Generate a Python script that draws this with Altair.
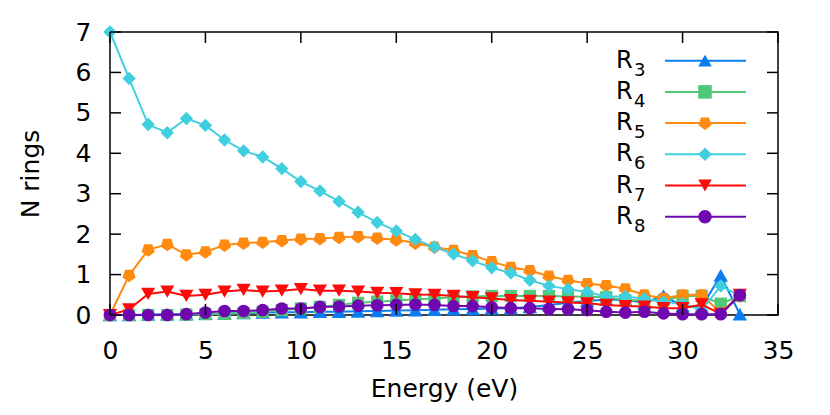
import altair as alt
import pandas as pd

# ---------------- data ----------------
energy = [0, 1, 2, 3, 4, 5, 6, 7, 8, 9, 10, 11, 12, 13, 14, 15, 16,
          17, 18, 19, 20, 21, 22, 23, 24, 25, 26, 27, 28, 29, 30, 31, 32, 33]

r3 = [0.00, 0.00, 0.01, 0.02, 0.02, 0.03, 0.04, 0.05, 0.06, 0.07, 0.07, 0.08,
      0.08, 0.09, 0.10, 0.11, 0.12, 0.13, 0.14, 0.15, 0.16, 0.17, 0.20, 0.25,
      0.30, 0.35, 0.38, 0.38, 0.30, 0.48, 0.22, 0.20, 0.98, 0.02]
r4 = [0.00, 0.00, 0.00, 0.00, 0.01, 0.02, 0.03, 0.05, 0.08, 0.12, 0.16, 0.20,
      0.25, 0.30, 0.33, 0.36, 0.39, 0.41, 0.44, 0.46, 0.47, 0.47, 0.47, 0.47,
      0.46, 0.45, 0.44, 0.37, 0.36, 0.36, 0.47, 0.47, 0.28, 0.47]
r5 = [0.00, 0.98, 1.61, 1.75, 1.49, 1.56, 1.73, 1.78, 1.80, 1.84, 1.88, 1.89,
      1.92, 1.94, 1.90, 1.86, 1.78, 1.68, 1.60, 1.47, 1.32, 1.18, 1.10, 0.96,
      0.86, 0.78, 0.73, 0.65, 0.50, 0.41, 0.50, 0.50, 0.05, 0.47]
r6 = [7.00, 5.85, 4.71, 4.51, 4.86, 4.69, 4.33, 4.06, 3.91, 3.62, 3.30, 3.07,
      2.81, 2.54, 2.29, 2.08, 1.87, 1.68, 1.51, 1.34, 1.17, 1.04, 0.86, 0.72,
      0.64, 0.57, 0.46, 0.46, 0.40, 0.32, 0.28, 0.12, 0.72, 0.48]
r7 = [0.00, 0.14, 0.52, 0.58, 0.47, 0.50, 0.58, 0.62, 0.58, 0.60, 0.64, 0.60,
      0.60, 0.58, 0.55, 0.54, 0.51, 0.50, 0.47, 0.44, 0.41, 0.37, 0.35, 0.33,
      0.31, 0.29, 0.25, 0.22, 0.21, 0.17, 0.17, 0.26, 0.03, 0.50]
r8 = [0.00, 0.00, 0.00, 0.00, 0.02, 0.06, 0.10, 0.10, 0.12, 0.16, 0.16, 0.20,
      0.21, 0.23, 0.24, 0.25, 0.26, 0.25, 0.22, 0.22, 0.19, 0.17, 0.17, 0.15,
      0.14, 0.12, 0.08, 0.06, 0.08, 0.04, 0.02, 0.02, 0.02, 0.49]

series_names = ["R3", "R4", "R5", "R6", "R7", "R8"]
series_subscripts = ["3", "4", "5", "6", "7", "8"]
series_values = [r3, r4, r5, r6, r7, r8]
series_colors = ["#0a7ef0", "#50c878", "#ff8a10", "#40cfdf", "#ff0a0a", "#7008b0"]
PENTAGON = "M0,1L0.951,0.309L0.588,-0.809L-0.588,-0.809L-0.951,0.309Z"
series_shapes = ["triangle-up", "square", PENTAGON, "diamond", "triangle-down", "circle"]
series_sizes = [210, 150, 190, 180, 200, 160]

x_ticks = [0, 5, 10, 15, 20, 25, 30, 35]
y_ticks = [0, 1, 2, 3, 4, 5, 6, 7]

# ---------------- layout ----------------
W, H = 668, 283
TICK = 11
FONT = "DejaVu Sans"

xscale = alt.Scale(domain=[0, 35], nice=False, zero=False)
yscale = alt.Scale(domain=[0, 7], nice=False, zero=False)

xaxis = alt.Axis(values=x_ticks, format="d", title="Energy (eV)", labelPadding=23,
                 titlePadding=13, labelFlush=False, labelOverlap=False)
yaxis = alt.Axis(values=y_ticks, format="d", title="N rings", labelPadding=19,
                 titlePadding=32, labelFlush=False, labelOverlap=False)

X = lambda f: alt.X(f, scale=xscale, axis=xaxis, title="Energy (eV)")
Y = lambda f: alt.Y(f, scale=yscale, axis=yaxis, title="N rings")

xt = pd.DataFrame({"E": x_ticks})
yt = pd.DataFrame({"value": y_ticks})

tick_style = dict(color="black", strokeWidth=1.5)
tick_layers = [
    alt.Chart(xt).mark_rule(**tick_style).encode(
        x=X("E:Q"), y=alt.value(H), y2=alt.value(H - TICK)),
    alt.Chart(xt).mark_rule(**tick_style).encode(
        x=X("E:Q"), y=alt.value(0), y2=alt.value(TICK)),
    alt.Chart(yt).mark_rule(**tick_style).encode(
        y=Y("value:Q"), x=alt.value(0), x2=alt.value(TICK)),
    alt.Chart(yt).mark_rule(**tick_style).encode(
        y=Y("value:Q"), x=alt.value(W), x2=alt.value(W - TICK)),
]

series_layers = []
for name, vals, col, shp, sz in zip(series_names, series_values, series_colors,
                                    series_shapes, series_sizes):
    df = pd.DataFrame({"E": energy, "value": vals})
    line = alt.Chart(df).mark_line(color=col, strokeWidth=2).encode(
        x=X("E:Q"), y=Y("value:Q"))
    pts = alt.Chart(df).mark_point(color=col, filled=True, opacity=1, shape=shp, size=sz).encode(
        x=X("E:Q"), y=Y("value:Q"))
    series_layers += [line, pts]

main = alt.layer(*series_layers, *tick_layers)

# ---------------- legend (built from the series arrays) ----------------
leg = pd.DataFrame({"label": series_names, "sub": series_subscripts,
                    "row": list(range(len(series_names)))})
ly = alt.Y("row:O", scale=alt.Scale(type="point", range=[28.7, 184.7], padding=0), axis=None)
lcol = alt.Color("label:N", scale=alt.Scale(domain=series_names, range=series_colors), legend=None)
lshape = alt.Shape("label:N", scale=alt.Scale(domain=series_names, range=series_shapes), legend=None)

legend = alt.layer(
    alt.Chart(leg).mark_rule(strokeWidth=2).encode(
        x=alt.value(555), x2=alt.value(636), y=ly, color=lcol),
    alt.Chart(leg).mark_point(filled=True, opacity=1, size=185).encode(
        x=alt.value(595), y=ly, color=lcol, shape=lshape),
    alt.Chart(leg).mark_text(align="left", baseline="middle", font=FONT, fontSize=24,
                             color="black").encode(
        x=alt.value(506), y=ly, text=alt.value("R")),
    alt.Chart(leg).mark_text(align="left", baseline="middle", font=FONT, fontSize=18,
                             color="black", dy=10).encode(
        x=alt.value(524), y=ly, text="sub:N"),
)

chart = (
    alt.layer(main, legend)
    .resolve_scale(y="independent", color="independent", shape="independent")
    .properties(
        width=W, height=H,
        autosize=alt.AutoSizeParams(type="none"),
        padding={"left": 102, "top": 24, "right": 44, "bottom": 92},
        background="white",
    )
    .configure_view(stroke="black", strokeWidth=1.5)
    .configure_axis(
        labelFont=FONT, labelFontSize=25, labelColor="black",
        titleFont=FONT, titleFontSize=25, titleColor="black", titleFontWeight="normal",
        domain=False, ticks=False, grid=False,
    )
)

chart.save("out.html", embed_options={"renderer": "svg", "actions": False})
